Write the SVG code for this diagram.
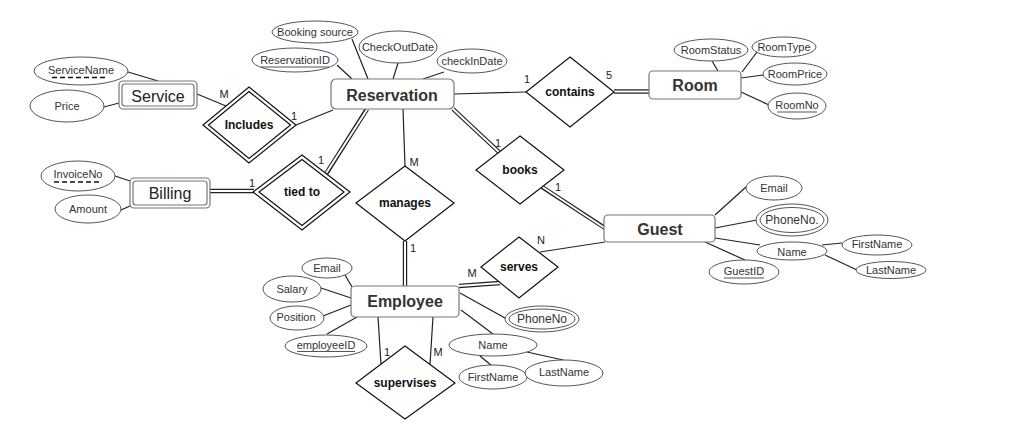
<svg xmlns="http://www.w3.org/2000/svg" width="1032" height="441" viewBox="0 0 1032 441">
<style>
.ln{stroke:#222;stroke-width:1.2;fill:none}
.dbo{stroke:#222;stroke-width:4.4;fill:none}
.dbi{stroke:#fff;stroke-width:2;fill:none}
.att{fill:#fff;stroke:#555;stroke-width:1}
.at{font-family:"Liberation Sans",Arial,sans-serif;font-size:11px;fill:#333;text-anchor:middle;dominant-baseline:central}
.ent{fill:#fff;stroke:#777;stroke-width:1.2}
.et{font-family:"Liberation Sans",Arial,sans-serif;font-size:16px;font-weight:bold;fill:#333;text-anchor:middle;dominant-baseline:central}
.wt{font-family:"Liberation Sans",Arial,sans-serif;font-size:16px;fill:#222;text-anchor:middle;dominant-baseline:central}
.rel{fill:#fff;stroke:#111;stroke-width:1.2}
.rt{font-family:"Liberation Sans",Arial,sans-serif;font-size:12px;font-weight:bold;fill:#111;text-anchor:middle;dominant-baseline:central}
.card{font-family:"Liberation Sans",Arial,sans-serif;font-size:11px;fill:#222;text-anchor:middle;dominant-baseline:central}
.ul{stroke:#444;stroke-width:0.9}
.dash{stroke:#111;stroke-width:1.6;stroke-dasharray:5,3}
</style>
<rect width="1032" height="441" fill="#fff"/>
<g id="connectors">
<line class="ln" x1="128" y1="72" x2="158" y2="81"/>
<line class="ln" x1="104" y1="107" x2="119" y2="103"/>
<line class="ln" x1="197" y1="94" x2="226" y2="106"/>
<line class="ln" x1="296" y1="125" x2="333" y2="110"/>
<line class="ln" x1="115" y1="176" x2="130" y2="181"/>
<line class="ln" x1="121" y1="210" x2="130" y2="206"/>
<line class="dbo" x1="210" y1="191" x2="254" y2="191"/><line class="dbi" x1="209" y1="191" x2="255" y2="191"/>
<line class="dbo" x1="367" y1="109" x2="326" y2="174"/><line class="dbi" x1="368" y1="108" x2="325" y2="175"/>
<line class="ln" x1="337" y1="65" x2="352" y2="79"/>
<line class="ln" x1="352" y1="39" x2="368" y2="79"/>
<line class="ln" x1="398" y1="63" x2="393" y2="79"/>
<line class="ln" x1="444" y1="72" x2="423" y2="79"/>
<line class="ln" x1="454" y1="94" x2="526" y2="92"/>
<line class="dbo" x1="614" y1="91.5" x2="649" y2="91.5"/><line class="dbi" x1="613" y1="91.5" x2="650" y2="91.5"/>
<line class="ln" x1="712" y1="61" x2="718" y2="71"/>
<line class="ln" x1="757" y1="52" x2="742" y2="72"/>
<line class="ln" x1="763" y1="75" x2="741" y2="78"/>
<line class="ln" x1="769" y1="105" x2="741" y2="92"/>
<line class="dbo" x1="453" y1="109" x2="499" y2="152"/><line class="dbi" x1="452" y1="108" x2="500" y2="153"/>
<line class="dbo" x1="542" y1="187" x2="605" y2="228"/><line class="dbi" x1="541" y1="186" x2="606" y2="229"/>
<line class="ln" x1="746" y1="187" x2="715" y2="215"/>
<line class="ln" x1="757" y1="220" x2="715" y2="228"/>
<line class="ln" x1="760" y1="245" x2="715" y2="238"/>
<line class="ln" x1="822" y1="245" x2="842" y2="243"/>
<line class="ln" x1="825" y1="255" x2="857" y2="270"/>
<line class="ln" x1="745" y1="260" x2="705" y2="242"/>
<line class="ln" x1="605" y1="242" x2="540" y2="252"/>
<line class="dbo" x1="459" y1="286" x2="500" y2="283"/><line class="dbi" x1="458" y1="286" x2="501" y2="283"/>
<line class="ln" x1="403" y1="109" x2="405" y2="166"/>
<line class="dbo" x1="405" y1="241" x2="405" y2="286"/><line class="dbi" x1="405" y1="240" x2="405" y2="287"/>
<line class="ln" x1="345" y1="275" x2="352" y2="287"/>
<line class="ln" x1="321" y1="288" x2="351" y2="298"/>
<line class="ln" x1="323" y1="316" x2="351" y2="305"/>
<line class="ln" x1="327" y1="334" x2="357" y2="317"/>
<line class="ln" x1="505" y1="318" x2="460" y2="293"/>
<line class="ln" x1="493" y1="334" x2="461" y2="310"/>
<line class="ln" x1="480" y1="356" x2="492" y2="366"/>
<line class="ln" x1="527" y1="352" x2="563" y2="360"/>
<line class="ln" x1="378" y1="317" x2="381" y2="364"/>
<line class="ln" x1="433" y1="317" x2="430" y2="364"/>
<text class="card" x="224" y="94">M</text>
<text class="card" x="294" y="116">1</text>
<text class="card" x="252" y="183">1</text>
<text class="card" x="321" y="160">1</text>
<text class="card" x="527" y="79">1</text>
<text class="card" x="609" y="75">5</text>
<text class="card" x="498" y="143">1</text>
<text class="card" x="558" y="187">1</text>
<text class="card" x="541" y="240">N</text>
<text class="card" x="472" y="273">M</text>
<text class="card" x="414" y="162">M</text>
<text class="card" x="413" y="248">1</text>
<text class="card" x="387" y="352">1</text>
<text class="card" x="438" y="352">M</text>
</g>
<g id="Service">
<rect class="ent" x="119" y="81" width="78" height="28" rx="4"/>
<rect class="ent" x="122" y="84" width="72" height="22" rx="3"/>
<text class="wt" x="158" y="96">Service</text>
</g>
<g id="ServiceName"><ellipse class="att" cx="81" cy="71" rx="47" ry="14"/><text class="at" x="81" y="70">ServiceName</text><line class="dash" x1="52" y1="77.5" x2="105" y2="77.5"/></g>
<g id="Price"><ellipse class="att" cx="67" cy="106" rx="37" ry="16"/><text class="at" x="67" y="106">Price</text></g>
<g id="Includes">
<polygon class="rel" points="249,87 296,125 249,163 203,125"/>
<polygon class="rel" points="249,91.5 290.5,125 249,158.5 208.5,125"/>
<text class="rt" x="249" y="125">Includes</text>
</g>
<g id="Billing">
<rect class="ent" x="130" y="178" width="80" height="30" rx="4"/>
<rect class="ent" x="133" y="181" width="74" height="24" rx="3"/>
<text class="wt" x="170" y="193">Billing</text>
</g>
<g id="InvoiceNo"><ellipse class="att" cx="78" cy="176" rx="37" ry="15"/><text class="at" x="78" y="174">InvoiceNo</text><line class="dash" x1="54" y1="182" x2="102" y2="182"/></g>
<g id="Amount"><ellipse class="att" cx="88" cy="209" rx="33" ry="14"/><text class="at" x="88" y="209">Amount</text></g>
<g id="TiedTo">
<polygon class="rel" points="302,155 350,192 302,230 253,192"/>
<polygon class="rel" points="302,159.5 344,192 302,225.5 259,192"/>
<text class="rt" x="302" y="192">tied to</text>
</g>
<g id="Reservation">
<rect class="ent" x="331" y="79" width="123" height="30" rx="5"/>
<text class="et" x="392" y="95">Reservation</text>
</g>
<g id="BookingSource"><ellipse class="att" cx="315" cy="32" rx="43" ry="11"/><text class="at" x="315" y="32">Booking source</text></g>
<g id="ReservationID"><ellipse class="att" cx="295" cy="60" rx="43" ry="12"/><text class="at" x="295" y="60">ReservationID</text><line class="ul" x1="261" y1="67" x2="329" y2="67"/></g>
<g id="CheckOutDate"><ellipse class="att" cx="398" cy="47" rx="39" ry="16"/><text class="at" x="398" y="47">CheckOutDate</text></g>
<g id="checkInDate"><ellipse class="att" cx="472" cy="61" rx="35" ry="12"/><text class="at" x="472" y="61">checkInDate</text></g>
<g id="Contains">
<polygon class="rel" points="570,57 614,92 570,127 526,92"/>
<text class="rt" x="570" y="92">contains</text>
</g>
<g id="Room">
<rect class="ent" x="649" y="71" width="92" height="28" rx="4"/>
<text class="et" x="695" y="85">Room</text>
</g>
<g id="RoomStatus"><ellipse class="att" cx="711" cy="50" rx="37" ry="11"/><text class="at" x="711" y="50">RoomStatus</text></g>
<g id="RoomType"><ellipse class="att" cx="784" cy="47" rx="32" ry="10"/><text class="at" x="784" y="47">RoomType</text></g>
<g id="RoomPrice"><ellipse class="att" cx="795" cy="74" rx="32" ry="11"/><text class="at" x="795" y="74">RoomPrice</text></g>
<g id="RoomNo"><ellipse class="att" cx="797" cy="106" rx="29" ry="13"/><text class="at" x="797" y="105">RoomNo</text><line class="ul" x1="777" y1="112" x2="817" y2="112"/></g>
<g id="Books">
<polygon class="rel" points="520,136 564,170 520,204 476,170"/>
<text class="rt" x="520" y="170">books</text>
</g>
<g id="Guest">
<rect class="ent" x="604" y="215" width="111" height="27" rx="4"/>
<text class="et" x="660" y="229">Guest</text>
</g>
<g id="GuestEmail"><ellipse class="att" cx="774" cy="188" rx="28" ry="12"/><text class="at" x="774" y="188">Email</text></g>
<g id="GuestPhone"><ellipse class="att" cx="792" cy="220" rx="36" ry="16"/><ellipse class="att" cx="792" cy="220" rx="32" ry="12.5"/><text class="at" x="792" y="220" style="font-size:12px">PhoneNo.</text></g>
<g id="GuestName"><ellipse class="att" cx="792" cy="251" rx="35" ry="9"/><text class="at" x="792" y="252">Name</text></g>
<g id="GuestFirstName"><ellipse class="att" cx="877" cy="245" rx="35" ry="10"/><text class="at" x="877" y="244">FirstName</text></g>
<g id="GuestLastName"><ellipse class="att" cx="891" cy="270" rx="35" ry="8.5"/><text class="at" x="891" y="270">LastName</text></g>
<g id="GuestID"><ellipse class="att" cx="744" cy="272" rx="35" ry="12"/><text class="at" x="744" y="271">GuestID</text><line class="ul" x1="724" y1="278" x2="764" y2="278"/></g>
<g id="Serves">
<polygon class="rel" points="519,237 558,267 519,298 481,267"/>
<text class="rt" x="519" y="267">serves</text>
</g>
<g id="Manages">
<polygon class="rel" points="405,166 454,203 405,241 356,203"/>
<text class="rt" x="405" y="203">manages</text>
</g>
<g id="Employee">
<rect class="ent" x="351" y="286" width="108" height="31" rx="4"/>
<text class="et" x="405" y="301">Employee</text>
</g>
<g id="EmpEmail"><ellipse class="att" cx="327" cy="268" rx="25" ry="10"/><text class="at" x="327" y="268">Email</text></g>
<g id="Salary"><ellipse class="att" cx="292" cy="289" rx="29" ry="13"/><text class="at" x="292" y="289">Salary</text></g>
<g id="Position"><ellipse class="att" cx="297" cy="318" rx="27" ry="12"/><text class="at" x="296" y="317">Position</text></g>
<g id="employeeID"><ellipse class="att" cx="326" cy="346" rx="41" ry="11"/><text class="at" x="326" y="345">employeeID</text><line class="ul" x1="297" y1="351.5" x2="355" y2="351.5"/></g>
<g id="EmpPhone"><ellipse class="att" cx="542" cy="319" rx="37" ry="13"/><ellipse class="att" cx="542" cy="319" rx="33" ry="10"/><text class="at" x="542" y="319" style="font-size:12px">PhoneNo</text></g>
<g id="EmpName"><ellipse class="att" cx="493" cy="345" rx="44" ry="11"/><text class="at" x="493" y="345">Name</text></g>
<g id="EmpFirstName"><ellipse class="att" cx="493" cy="377" rx="34" ry="12"/><text class="at" x="493" y="377">FirstName</text></g>
<g id="EmpLastName"><ellipse class="att" cx="564" cy="373" rx="39" ry="13"/><text class="at" x="564" y="372">LastName</text></g>
<g id="Supervises">
<polygon class="rel" points="405,346 455,383 405,419 356,383"/>
<text class="rt" x="405" y="383">supervises</text>
</g>
</svg>
